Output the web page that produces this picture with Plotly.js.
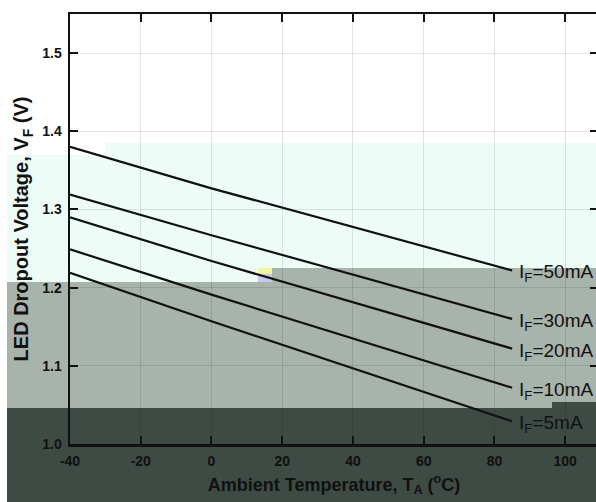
<!DOCTYPE html>
<html>
<head>
<meta charset="utf-8">
<script src="https://cdn.plot.ly/plotly-3.0.1.min.js"></script>
<style>
html,body{margin:0;padding:0;overflow:hidden;background:#fff;}
#chart{width:598px;height:502px;}
</style>
</head>
<body>
<div id="chart"></div>
<script>
// ---- data ----
const temps = [-40, 0, 85];
const vf50mA = [1.380, 1.327, 1.222];
const vf30mA = [1.319, 1.267, 1.160];
const vf20mA = [1.290, 1.234, 1.122];
const vf10mA = [1.249, 1.191, 1.072];
const vf5mA  = [1.219, 1.157, 1.029];
const seriesLabels = ['I<sub>F</sub>=50mA','I<sub>F</sub>=30mA','I<sub>F</sub>=20mA','I<sub>F</sub>=10mA','I<sub>F</sub>=5mA'];
const xTickVals = [-40, -20, 0, 20, 40, 60, 80, 100];
const yTickVals = [1.0, 1.1, 1.2, 1.3, 1.4, 1.5];
const yTickText = ['1.0','1.1','1.2','1.3','1.4','1.5'];

const allSeries = [vf50mA, vf30mA, vf20mA, vf10mA, vf5mA];

// ---- layout geometry ----
const W = 598, H = 502, ML = 70, MT = 14, MB = 58, MR = 0;
const PW = W - ML - MR, PH = H - MT - MB;
const px = x => ((x - ML) / PW).toFixed(4);
const py = y => ((H - MB - y) / PH).toFixed(4);
function poly(pts){ return 'M' + pts.map(p => px(p[0]) + ',' + py(p[1])).join(' L') + ' Z'; }

const bandShapes = [
  {path: poly([[7,155],[105,155],[105,143],[600,143],[600,268],[272,268],[272,282],[7,282]]), color:'#eefcf8'},
  {path: poly([[7,282],[272,282],[272,268],[600,268],[600,408],[7,408]]), color:'#a8b3ab'},
  {path: poly([[7,408],[600,408],[600,510],[7,510]]), color:'#3e4a44'},
  {path: poly([[552,402],[600,402],[600,408],[552,408]]), color:'#3e4a44'},
  {path: poly([[258,268],[272,268],[272,274],[258,274]]), color:'#f2f5a0'},
  {path: poly([[258,274],[272,274],[272,282],[258,282]]), color:'#c8c8ee'}
].map(b => ({type:'path', xref:'paper', yref:'paper', path:b.path, fillcolor:b.color, line:{width:0}, layer:'below'}));

const traces = allSeries.map((v, i) => ({
  x: temps, y: v, type:'scatter', mode:'lines',
  line:{color:'#111', width:2.2}, hoverinfo:'skip', showlegend:false
}));

const annotations = allSeries.map((v, i) => ({
  x: 86.5, y: v[v.length-1], xref:'x', yref:'y',
  text: seriesLabels[i], showarrow:false, xanchor:'left', yanchor:'middle',
  yshift: -3,
  font:{family:'Liberation Sans, Arial, sans-serif', size:19, color:'#111'}
}));

const tickFont = {family:'Liberation Sans, Arial, sans-serif', size:14, color:'#111', weight:'bold'};
const xTitleFont = {family:'Liberation Sans, Arial, sans-serif', size:18, color:'#111', weight:'bold'};
const yTitleFont = {family:'Liberation Sans, Arial, sans-serif', size:20, color:'#111', weight:'bold'};

const layout = {
  width: W, height: H,
  margin:{l:ML, r:MR, t:MT, b:MB, pad:0},
  paper_bgcolor:'#ffffff', plot_bgcolor:'rgba(0,0,0,0)',
  showlegend:false,
  shapes: bandShapes,
  annotations: annotations,
  xaxis:{
    range:[-40, -40 + PW/3.537], tickvals:xTickVals, ticktext:xTickVals.map(String),
    showgrid:true, gridcolor:'rgba(0,0,0,0.10)', gridwidth:1,
    showline:true, linecolor:'#111', linewidth:2.5, mirror:'ticks',
    ticks:'inside', ticklen:8, tickwidth:2, tickcolor:'#111',
    tickfont:tickFont, zeroline:false, ticklabelstandoff:3,
    title:{text:'Ambient Temperature, T<sub>A</sub> (<sup>o</sup>C)', font:xTitleFont, standoff:10}
  },
  yaxis:{
    range:[1.0, 1.55], tickvals:yTickVals, ticktext:yTickText,
    showgrid:true, gridcolor:'rgba(0,0,0,0.10)', gridwidth:1,
    showline:true, linecolor:'#111', linewidth:2.5, mirror:'ticks',
    ticks:'inside', ticklen:8, tickwidth:2, tickcolor:'#111',
    tickfont:tickFont, zeroline:false, ticklabelstandoff:3,
    title:{text:'LED Dropout Voltage, V<sub>F</sub> (V)', font:yTitleFont, standoff:8}
  }
};

Plotly.newPlot('chart', traces, layout, {staticPlot:true, displayModeBar:false});
</script>
</body>
</html>
